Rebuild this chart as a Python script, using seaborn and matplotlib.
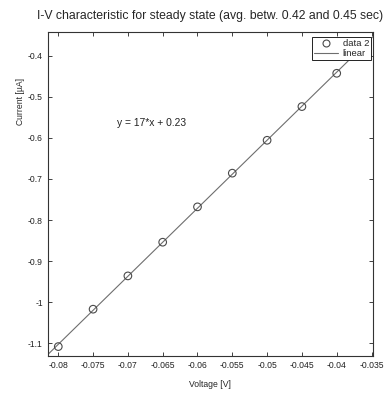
import numpy as np
import pandas as pd
import matplotlib
matplotlib.use("Agg")
import matplotlib.pyplot as plt
import seaborn as sns
from matplotlib.lines import Line2D

# ---- data ----
voltage = [-0.08, -0.075, -0.07, -0.065, -0.06, -0.055, -0.05, -0.045, -0.04]
current = [-1.108, -1.017, -0.936, -0.854, -0.768, -0.686, -0.606, -0.524, -0.443]
x_ticks = [-0.08, -0.075, -0.07, -0.065, -0.06, -0.055, -0.05, -0.045, -0.04, -0.035]
x_tick_labels = ["-0.08", "-0.075", "-0.07", "-0.065", "-0.06", "-0.055",
                 "-0.05", "-0.045", "-0.04", "-0.035"]
y_ticks = [-1.1, -1.0, -0.9, -0.8, -0.7, -0.6, -0.5, -0.4]
y_tick_labels = ["-1.1", "-1", "-0.9", "-0.8", "-0.7", "-0.6", "-0.5", "-0.4"]
x_limits = (-0.08152, -0.03483)
y_limits = (-1.1309, -0.3418)
title = "I-V characteristic for steady state (avg. betw. 0.42 and 0.45 sec)"
equation = "y = 17*x + 0.23"

sns.set_style("ticks")
plt.rcParams["font.family"] = ["Liberation Sans", "DejaVu Sans"]

df = pd.DataFrame({"Voltage": voltage, "Current": current})
slope, intercept = np.polyfit(voltage, current, 1)
fit_x = np.array(x_limits)
fit_df = pd.DataFrame({"Voltage": fit_x, "Current": slope * fit_x + intercept})

fig = plt.figure(figsize=(3.85, 3.93), dpi=100)
ax = fig.add_axes([47.7 / 385, 37 / 393, 325 / 385, 324.3 / 393])

line_color = "#6e6e6e"
sns.lineplot(data=fit_df, x="Voltage", y="Current", ax=ax, color=line_color,
             linewidth=0.8, zorder=2)
sns.scatterplot(data=df, x="Voltage", y="Current", ax=ax, marker="o", s=30,
                facecolor="none", edgecolor="#4a4a4a", linewidth=0.8, zorder=3)

ax.set_xlim(*x_limits)
ax.set_ylim(*y_limits)
ax.set_xticks(x_ticks)
ax.set_xticklabels(x_tick_labels)
ax.set_yticks(y_ticks)
ax.set_yticklabels(y_tick_labels)
ax.tick_params(direction="in", length=3, width=0.6, labelsize=6.2, pad=3.5,
               top=True, right=True, colors="#222222")
for sp in ax.spines.values():
    sp.set_visible(True)
    sp.set_linewidth(0.8)
    sp.set_color("#333333")

ax.set_xlabel("Voltage [V]", fontsize=6.2, labelpad=7.5)
ax.set_ylabel("Current [µA]", fontsize=6.2)
ax.yaxis.set_label_coords(-0.071, 0.785)
ax.set_title(title, fontsize=8.8, pad=9)

ax.text(-0.0716, -0.5633, equation, fontsize=7.4, ha="left", va="center",
        color="#222222")

handles = [
    Line2D([], [], marker="o", linestyle="none", markerfacecolor="none",
           markeredgecolor="#4a4a4a", markersize=5, markeredgewidth=0.8),
    Line2D([], [], color=line_color, linewidth=0.8),
]
leg = ax.legend(handles, ["data 2", "linear"], loc="upper right",
                bbox_to_anchor=(0.9948, 0.9827), borderaxespad=0,
                fontsize=6.8, frameon=True, fancybox=False, edgecolor="#222222",
                framealpha=1, handlelength=2.6, handletextpad=0.5,
                borderpad=0.18, labelspacing=0.1)
leg.get_frame().set_linewidth(0.7)

fig.savefig("out.png", dpi=100, facecolor="white")
